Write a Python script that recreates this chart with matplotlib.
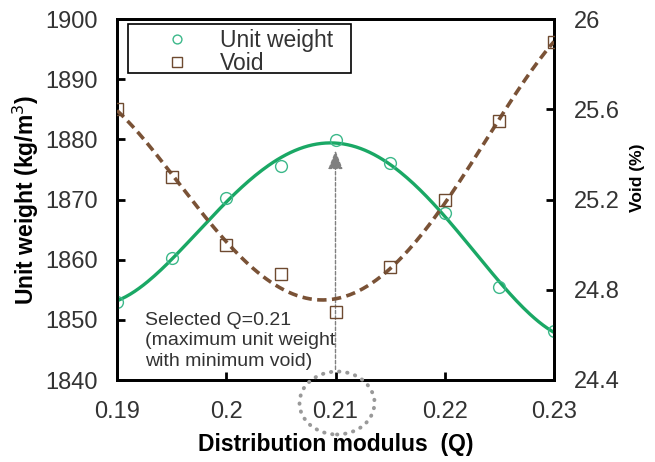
"""Unit weight and void vs distribution modulus."""
import matplotlib.pyplot as plt
from matplotlib.patches import Ellipse, Rectangle
import numpy as np

plt.rcParams['font.family'] = ['Liberation Sans', 'DejaVu Sans']

# data
q = [0.19, 0.195, 0.20, 0.205, 0.21, 0.215, 0.22, 0.225, 0.23]
unit_weight = [1853.0, 1860.3, 1870.2, 1875.5, 1879.9, 1876.1, 1867.7, 1855.5, 1848.2]
void = [25.60, 25.30, 25.00, 24.87, 24.70, 24.90, 25.20, 25.55, 25.90]

x_ticks = [0.19, 0.2, 0.21, 0.22, 0.23]
x_labels = ['0.19', '0.2', '0.21', '0.22', '0.23']
y1_ticks = [1840, 1850, 1860, 1870, 1880, 1890, 1900]
y2_ticks = [24.4, 24.8, 25.2, 25.6, 26]
y2_labels = ['24.4', '24.8', '25.2', '25.6', '26']

green = '#1aa865'
brown = '#7a5236'
txt = '#333333'

# smooth trend lines through the points
qs = np.linspace(min(q), max(q), 200)
uw_fit = np.polyval(np.polyfit(q, unit_weight, 4), qs)
v_fit = np.polyval(np.polyfit(q, void, 4), qs)

fig = plt.figure(figsize=(6.55, 4.62), dpi=100)
W, H = 655, 462
ax = fig.add_axes([117 / W, (H - 380) / H, 437 / W, 361 / H])
ax2 = ax.twinx()

ax.plot(qs, uw_fit, color=green, lw=2.4, zorder=3)
l1, = ax.plot(q, unit_weight, 'o', ms=8.5, mfc='none', mec='#3cb88a', mew=1.0,
              label='Unit weight', zorder=4)
ax2.plot(qs, v_fit, color=brown, lw=2.6, ls=(0, (2.6, 1.5)), zorder=3)
l2, = ax2.plot(q, void, 's', ms=9, mfc='none', mec='#6e4a30', mew=1.0,
               label='Void', zorder=4)

ax.set_xlim(0.19, 0.23)
ax.set_ylim(1840, 1900)
ax2.set_ylim(24.4, 26)
ax.set_xticks(x_ticks)
ax.set_xticklabels(x_labels)
ax.set_yticks(y1_ticks)
ax2.set_yticks(y2_ticks)
ax2.set_yticklabels(y2_labels)

for a in (ax, ax2):
    for s in a.spines.values():
        s.set_linewidth(2.0)
    a.tick_params(direction='in', length=6, width=2.0, labelsize=17,
                  labelcolor=txt, pad=14)
ax.tick_params(axis='x', pad=15)

ax.set_xlabel('Distribution modulus  (Q)', fontsize=16.5, fontweight='bold',
              labelpad=7)
ax.set_ylabel('Unit weight (kg/m$^3$)', fontsize=16.5, fontweight='bold',
              labelpad=3)
ax2.set_ylabel('Void (%)', fontsize=12.5, fontweight='bold')
ax2.yaxis.set_label_coords(1.174, 0.56)

# selection arrow
ax.annotate('', xy=(0.21, 1878.6), xytext=(0.21, 1841.3),
            arrowprops=dict(arrowstyle='-|>,head_length=1.15,head_width=0.45',
                            color='#808080', lw=1.0, ls=(0, (2.5, 1.5))),
            zorder=2)
ax.text(0.1926, 1851.3, 'Selected Q=0.21\n(maximum unit weight\nwith minimum void)',
        fontsize=14, color=txt, va='top', ha='left', linespacing=1.25)

circle = Ellipse((337 / W, (H - 403) / H), 75 / W, 63 / H,
                 transform=fig.transFigure, fill=False, ec='#999999',
                 lw=2.8, ls=(0, (0.1, 2.0)), capstyle='round', clip_on=False)
fig.add_artist(circle)

# legend with a hand-drawn frame
leg = fig.legend(handles=[l1, l2], loc='upper left',
                 bbox_to_anchor=(155 / W, (H - 29) / H), fontsize=16.5,
                 frameon=False, borderpad=0, borderaxespad=0,
                 handlelength=1.9, handletextpad=0.95, labelspacing=0.0,
                 markerscale=0.75)
for t in leg.get_texts():
    t.set_color(txt)
fig.add_artist(Rectangle((128 / W, (H - 73) / H), 223 / W, 49 / H,
                         transform=fig.transFigure, fill=True, fc='white',
                         ec='black', lw=1.2, zorder=5))
leg.set_zorder(6)

plt.savefig('out.png', dpi=100)
